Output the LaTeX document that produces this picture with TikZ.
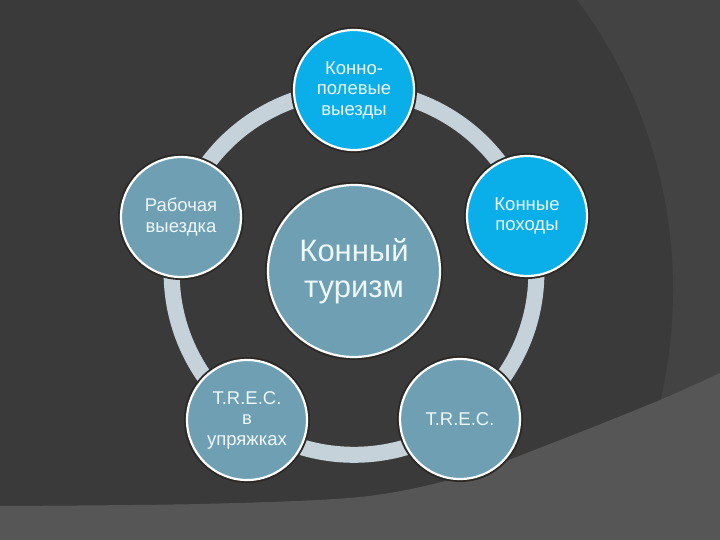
\documentclass[tikz,border=0pt]{standalone}
\usepackage{fontspec}
\setmainfont{Liberation Sans}
\definecolor{bgbase}{HTML}{3A3A3A}
\definecolor{bgright}{HTML}{434343}
\definecolor{bgbottom}{HTML}{565656}
\definecolor{ringc}{HTML}{C5D2DA}
\definecolor{bluec}{HTML}{0AAFEA}
\definecolor{tealc}{HTML}{6E9FB2}
\definecolor{txtc}{HTML}{EEF7FA}
\definecolor{halo}{HTML}{2C2825}
\begin{document}
\begin{tikzpicture}[x=1pt,y=-1pt,
  bubble/.style={circle, inner sep=0pt, minimum size=120pt, draw=white,
    line width=2.2pt, preaction={draw=halo, line width=6pt},
    text=txtc, align=center, font=\fontsize{18.5}{20.5}\selectfont},
  bigbubble/.style={bubble, minimum size=172pt, font=\fontsize{31}{36}\selectfont}]
\useasboundingbox (0,0) rectangle (720,540);
\clip (0,0) rectangle (720,540);
\fill[bgright] (0,0) rectangle (720,540);
\fill[bgbase] (187,290) circle[radius=486];
\fill[bgbottom] plot[smooth] coordinates {(0,506) (200,504) (360,497) (460,477) (560,440) (660,400) (720,373)} -- (720,540) -- (0,540) -- cycle;
\draw[ringc, line width=16pt] (354,272.4) circle[radius=182.4];
\node[bubble, fill=bluec] (top) at (354,90) {Конно-\\полевые\\выезды};
\node[bubble, fill=tealc] (left) at (181,217) {Рабочая\\выездка};
\node[bubble, fill=bluec] (right) at (527,216) {Конные\\походы};
\node[bubble, fill=tealc] (bl) at (247,420) {T.R.E.C.\\в\\упряжках};
\node[bubble, fill=tealc] (br) at (460,419) {T.R.E.C.};
\node[bigbubble, fill=tealc] (center) at (354,271) {Конный\\туризм};
\end{tikzpicture}
\end{document}
